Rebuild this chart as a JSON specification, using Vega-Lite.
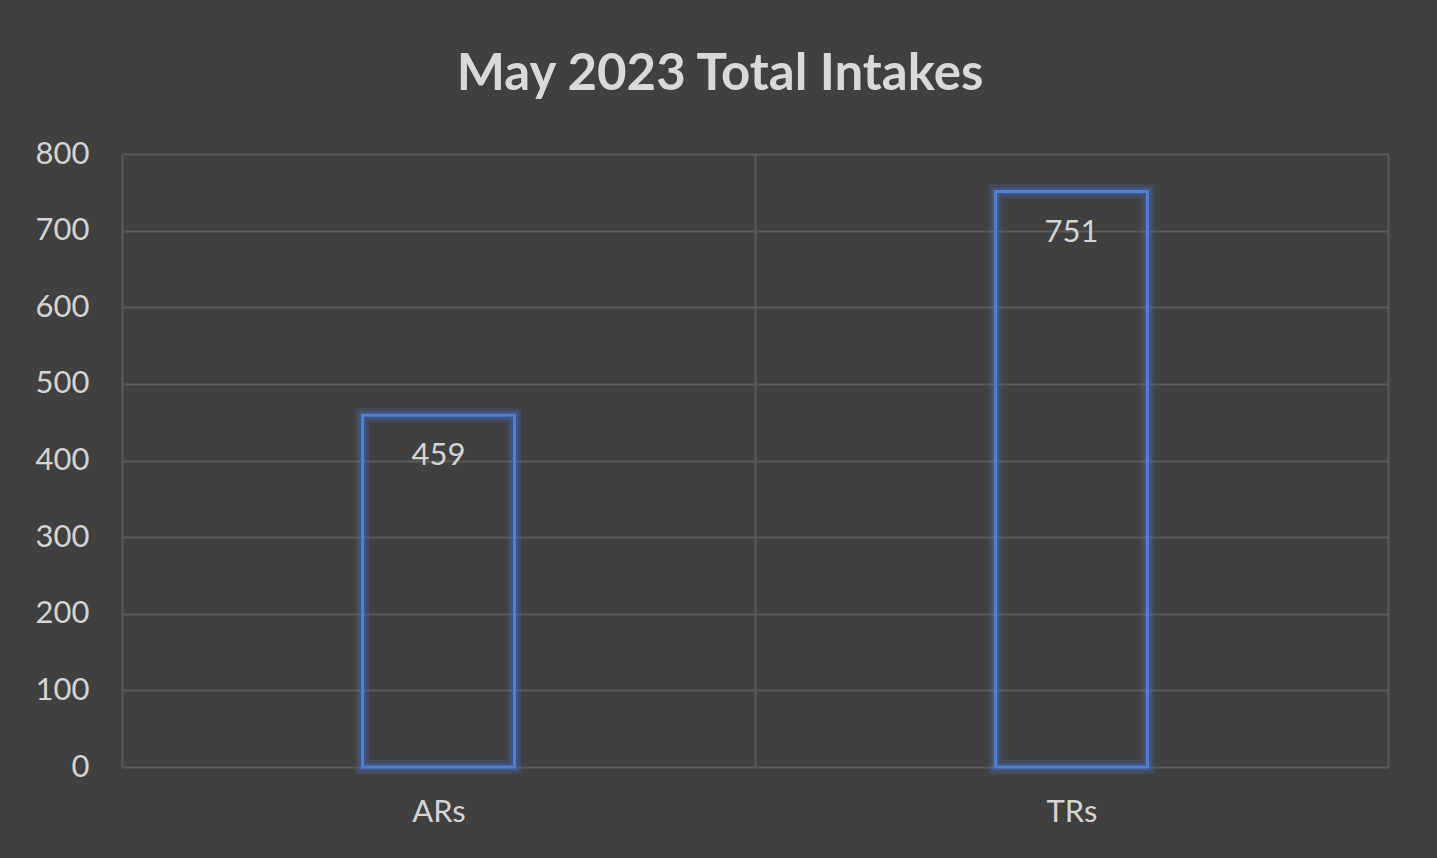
{
  "$schema": "https://vega.github.io/schema/vega-lite/v6.json",
  "width": 1266,
  "height": 613,
  "autosize": {"type": "none"},
  "padding": {"left": 122, "top": 154, "right": 49, "bottom": 91},
  "background": "#404040",
  "title": {
    "text": "May 2023 Total Intakes",
    "font": "Lato",
    "fontWeight": "bold",
    "fontSize": 51,
    "color": "#d9d9d9",
    "anchor": "middle",
    "frame": "group",
    "dx": -35,
    "baseline": "alphabetic",
    "offset": -3
  },
  "data": {
    "values": [
      {"category": "ARs", "value": 459},
      {"category": "TRs", "value": 751}
    ]
  },
  "config": {
    "view": {"stroke": null},
    "axis": {
      "labelFont": "Lato",
      "labelFontSize": 31,
      "labelColor": "#d4d4d4",
      "domain": false,
      "ticks": false,
      "title": null,
      "gridColor": "#5a5a5a",
      "gridWidth": 2
    }
  },
  "encoding": {
    "x": {
      "field": "category",
      "type": "nominal",
      "sort": null,
      "scale": {"paddingInner": 0, "paddingOuter": 0},
      "axis": {"labelAngle": 0, "labelPadding": 30, "grid": true, "tickBand": "extent"}
    },
    "y": {
      "field": "value",
      "type": "quantitative",
      "scale": {"domain": [0, 800]},
      "axis": {"values": [0, 100, 200, 300, 400, 500, 600, 700, 800], "labelPadding": 33, "grid": true}
    }
  },
  "layer": [
    {
      "mark": {"type": "bar", "width": {"band": 0.24}, "fill": null, "fillOpacity": 0, "stroke": "#4472c4", "strokeWidth": 14, "strokeOpacity": 0.22}
    },
    {
      "mark": {"type": "bar", "width": {"band": 0.24}, "fill": null, "fillOpacity": 0, "stroke": "#4472c4", "strokeWidth": 8, "strokeOpacity": 0.3}
    },
    {
      "mark": {"type": "bar", "width": {"band": 0.24}, "fill": null, "fillOpacity": 0, "stroke": "#4f7fd6", "strokeWidth": 3}
    },
    {
      "mark": {"type": "text", "font": "Lato", "fontSize": 31, "color": "#d4d4d4", "baseline": "middle", "dy": 41},
      "encoding": {"text": {"field": "value", "type": "quantitative"}}
    }
  ]
}
